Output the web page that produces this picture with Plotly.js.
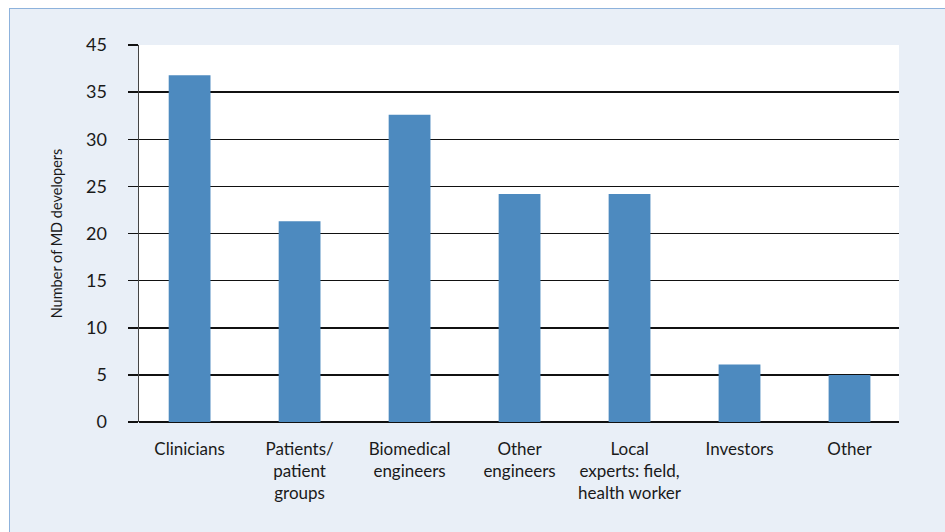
<!DOCTYPE html>
<html>
<head>
<meta charset="utf-8">
<script src="https://cdn.plot.ly/plotly-3.0.1.min.js"></script>
<style>
  html, body { margin: 0; padding: 0; background: #ffffff; }
  #bg { position: absolute; left: 9px; top: 8px; width: 936px; height: 524px;
        background: #e9eff7; border-left: 1px solid #8db2dc; border-top: 1px solid #8db2dc; box-sizing: border-box; }
  #chart { position: absolute; left: 0; top: 0; width: 945px; height: 532px; }
</style>
</head>
<body>
<div id="bg"></div>
<div id="chart"></div>
<script>
const categories = [
  "Clinicians",
  "Patients/<br>patient<br>groups",
  "Biomedical<br>engineers",
  "Other<br>engineers",
  "Local<br>experts: field,<br>health worker",
  "Investors",
  "Other"
];
const values = [36.8, 21.3, 32.6, 24.2, 24.2, 6.1, 5.0];
const yTickVals = [0, 5, 10, 15, 20, 25, 30, 35, 40];
const yTickText = ["0", "5", "10", "15", "20", "25", "30", "35", "45"];

const trace = {
  type: "bar",
  x: categories,
  y: values,
  width: 0.38,
  marker: { color: "#4d8abf", line: { width: 0 } },
  hoverinfo: "x+y"
};

const layout = {
  width: 945, height: 532,
  margin: { l: 139, r: 46, t: 45, b: 110 },
  paper_bgcolor: "rgba(0,0,0,0)",
  plot_bgcolor: "#ffffff",
  font: { family: "Lato, 'Open Sans', sans-serif", color: "#1a1a1a" },
  showlegend: false,
  xaxis: {
    type: "category",
    range: [-0.46, 6.45],
    showline: false,
    showgrid: false,
    ticks: "",
    tickfont: { size: 17, color: "#1a1a1a" },
    ticklabelstandoff: 15,
    fixedrange: true
  },
  yaxis: {
    range: [0, 40],
    tickvals: yTickVals,
    ticktext: yTickText,
    showgrid: true,
    gridcolor: "#111111",
    gridwidth: 1.5,
    zeroline: true,
    zerolinecolor: "#111111",
    zerolinewidth: 1.5,
    showline: true,
    linecolor: "#444444",
    linewidth: 1.5,
    ticks: "outside",
    ticklen: 10,
    tickwidth: 1.5,
    tickcolor: "#111111",
    tickfont: { size: 18, color: "#1a1a1a" },
    ticklabelstandoff: 17,
    title: { text: "Number of MD developers", font: { size: 14.5, color: "#1a1a1a" }, standoff: 20 },
    fixedrange: true
  }
};

Plotly.newPlot("chart", [trace], layout, { displayModeBar: false, staticPlot: true });
</script>
</body>
</html>
